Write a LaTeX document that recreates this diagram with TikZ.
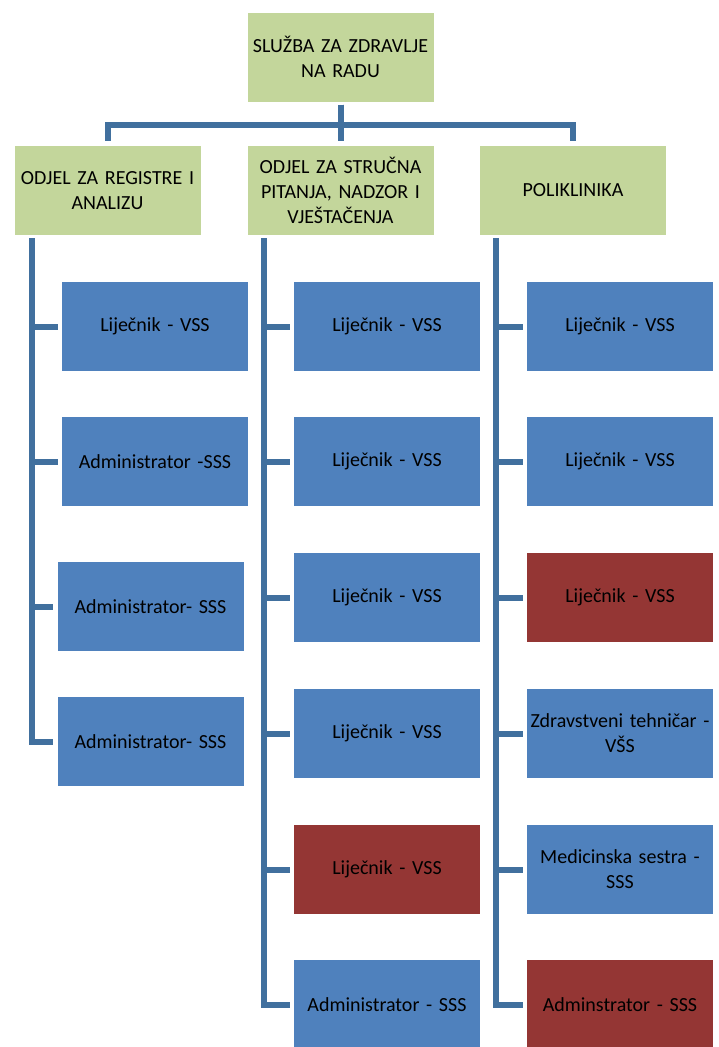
\documentclass[tikz,border=0pt]{standalone}
\usepackage{fontspec}
\setmainfont{Carlito}
\usetikzlibrary{calc}
\definecolor{boxgreen}{HTML}{C3D69B}
\definecolor{boxblue}{HTML}{4F81BD}
\definecolor{boxred}{HTML}{943634}
\definecolor{linkblue}{HTML}{41709E}
\tikzset{
  base/.style={rectangle, minimum width=186pt, minimum height=89pt, inner sep=0pt, text width=180pt, align=center, font=\fontsize{20}{25}\selectfont, text=black},
  head/.style={base, fill=boxgreen},
  blue/.style={base, fill=boxblue},
  red/.style={base, fill=boxred},
  conn/.style={draw=linkblue, line width=6pt},
}
\newcommand{\cl}[1]{\makebox[180pt][c]{#1}}
\begin{document}
\begin{tikzpicture}[x=1pt,y=-1pt]
\useasboundingbox (0,0) rectangle (718,1047);
\begin{scope}
\clip (0,0) rectangle (718,1047);
% top and level 2
\node[head] (top) at (340.5,57) {\cl{SLUŽBA ZA ZDRAVLJE}\\\cl{NA RADU}};
\node[head] (d1) at (107.5,190.5) {\cl{ODJEL ZA REGISTRE I}\\\cl{ANALIZU}};
\node[head] (d2) at (340.5,190.5) {\cl{ODJEL ZA STRUČNA}\\\cl{PITANJA, NADZOR I}\\\cl{VJEŠTAČENJA}};
\node[head] (d3) at (573,190.5) {POLIKLINIKA};
% column 1
\node[blue] (a1) at (155,326.5) {Liječnik - VSS};
\node[blue] (a2) at (155,461.5) {Administrator -SSS};
\node[blue] (a3) at (150.5,606.5) {Administrator- SSS};
\node[blue] (a4) at (150.5,741.5) {Administrator- SSS};
% column 2
\node[blue] (b1) at (387,326.5) {Liječnik - VSS};
\node[blue] (b2) at (387,461.5) {Liječnik - VSS};
\node[blue] (b3) at (387,597.5) {Liječnik - VSS};
\node[blue] (b4) at (387,733.5) {Liječnik - VSS};
\node[red]  (b5) at (387,869.5) {Liječnik - VSS};
\node[blue] (b6) at (387,1004.5) {Administrator - SSS};
% column 3
\node[blue] (c1) at (620,326.5) {Liječnik - VSS};
\node[blue] (c2) at (620,461.5) {Liječnik - VSS};
\node[red]  (c3) at (620,597.5) {Liječnik - VSS};
\node[blue] (c4) at (620,733.5) {\cl{Zdravstveni tehničar -}\\\cl{VŠS}};
\node[blue] (c5) at (620,869.5) {\cl{Medicinska sestra -}\\\cl{SSS}};
\node[red]  (c6) at (620,1004.5) {Adminstrator - SSS};
% top connectors
\foreach \d in {d1,d2,d3}
  \draw[conn, shorten <=3pt, shorten >=5pt] (top.south) -- ++(0,23) -| (\d.north);
% column connectors
\foreach \c in {a1,a2,a3,a4}
  \draw[conn, shorten <=3pt, shorten >=4pt] ($(d1.south west)+(18,0)$) |- (\c.west);
\foreach \c in {b1,b2,b3,b4,b5,b6}
  \draw[conn, shorten <=3pt, shorten >=4pt] ($(d2.south west)+(17,0)$) |- (\c.west);
\foreach \c in {c1,c2,c3,c4,c5,c6}
  \draw[conn, shorten <=3pt, shorten >=4pt] ($(d3.south west)+(16,0)$) |- (\c.west);
\end{scope}
\end{tikzpicture}
\end{document}
